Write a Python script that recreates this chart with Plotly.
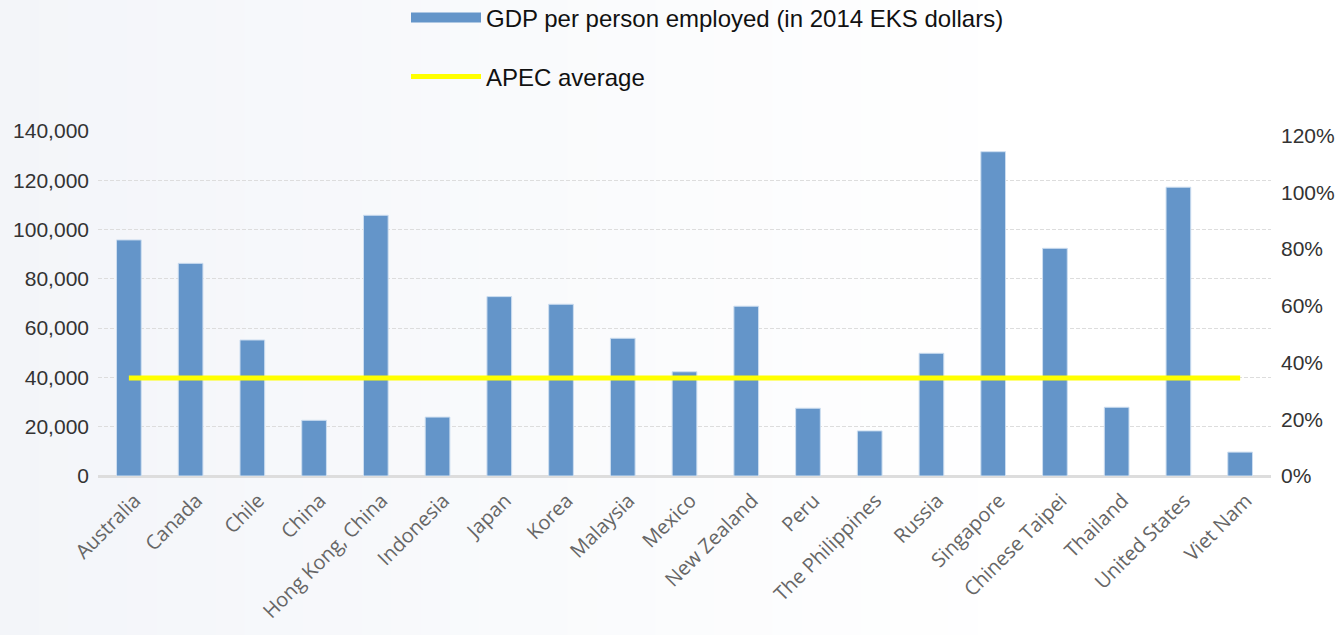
import plotly.graph_objects as go

economies = ["Australia", "Canada", "Chile", "China", "Hong Kong, China", "Indonesia",
             "Japan", "Korea", "Malaysia", "Mexico", "New Zealand", "Peru",
             "The Philippines", "Russia", "Singapore", "Chinese Taipei", "Thailand",
             "United States", "Viet Nam"]
gdp_per_employed = [95800, 86300, 55200, 22600, 105800, 23900, 72800, 69700, 55900,
                    42300, 68900, 27500, 18300, 49800, 131600, 92400, 27900, 117200, 9700]
apec_average = [39800] * len(economies)

left_ticks = [0, 20000, 40000, 60000, 80000, 100000, 120000, 140000]
right_ticks = [0, 0.2, 0.4, 0.6, 0.8, 1.0, 1.2]

BAR_COLOR = "#6495c9"
BAR_NAME = "GDP per person employed (in 2014 EKS dollars)"

fig = go.Figure()

# background gradient (light grey-blue on left fading to white)
n = 48
for i in range(n):
    t = i / (n - 1)
    f = min(1.0, t / 0.75)
    r = int(round(243 + (255 - 243) * f))
    g = int(round(245 + (255 - 245) * f))
    b = int(round(249 + (255 - 249) * f))
    fig.add_shape(type="rect", xref="paper", yref="paper",
                  x0=-0.1 + 1.2 * i / n, x1=-0.1 + 1.2 * (i + 1) / n + 0.003,
                  y0=-0.6, y1=1.5, fillcolor=f"rgb({r},{g},{b})",
                  line=dict(width=0), layer="below")

fig.add_trace(go.Bar(
    x=economies, y=gdp_per_employed, name=BAR_NAME,
    marker=dict(color=BAR_COLOR, line=dict(color="rgba(205,222,240,1)", width=1)),
    showlegend=False, legendgroup="gdp",
))
# legend entry for bars drawn as a wide swatch
fig.add_trace(go.Scatter(
    x=[None], y=[None], mode="lines", name=BAR_NAME,
    line=dict(color=BAR_COLOR, width=14), legendgroup="gdp", legend="legend",
))
fig.add_trace(go.Scatter(
    x=economies, y=apec_average, mode="lines", name="APEC average",
    line=dict(color="#ffff00", width=5),
    legend="legend2",
))
fig.add_trace(go.Scatter(
    x=economies, y=[None] * len(economies), yaxis="y2", showlegend=False,
    mode="lines", hoverinfo="skip",
))

fig.update_layout(
    width=1344, height=635,
    margin=dict(l=98, r=73, t=131, b=159, autoexpand=False),
    paper_bgcolor="white", plot_bgcolor="rgba(0,0,0,0)",
    bargap=0.6,
    font=dict(family="Liberation Sans, Arial, sans-serif", color="#222"),
    xaxis=dict(
        tickangle=-45, automargin=False, ticklabelstandoff=8, ticklabelshift=6,
        tickfont=dict(family="Open Sans, sans-serif", size=20, color="#666"),
        showgrid=False, showline=False, ticks="",
    ),
    yaxis=dict(
        range=[0, 140000], tickvals=left_ticks, automargin=False,
        tickformat=",", ticklabelstandoff=8,
        tickfont=dict(size=21, color="#333"),
        showgrid=True, gridcolor="#dddddd", griddash="4px,2px", gridwidth=1,
        zeroline=True, zerolinecolor="#dddddd", zerolinewidth=3,
    ),
    yaxis2=dict(
        range=[0, 1.2159], tickvals=right_ticks, tickformat=".0%", automargin=False,
        overlaying="y", side="right", showgrid=False, zeroline=False,
        ticklabelstandoff=9,
        tickfont=dict(size=21, color="#333"),
    ),
    legend=dict(
        xref="container", yref="container",
        x=406 / 1344, xanchor="left", y=1 - 18 / 635, yanchor="middle",
        font=dict(size=24, color="#111"), itemwidth=70,
        bgcolor="rgba(0,0,0,0)",
    ),
    legend2=dict(
        xref="container", yref="container",
        x=406 / 1344, xanchor="left", y=1 - 77 / 635, yanchor="middle",
        font=dict(size=24, color="#111"), itemwidth=70,
        bgcolor="rgba(0,0,0,0)",
    ),
    showlegend=True,
)

fig.write_html("out.html", post_script="document.body.style.margin='0';",
               config={"displayModeBar": False})
